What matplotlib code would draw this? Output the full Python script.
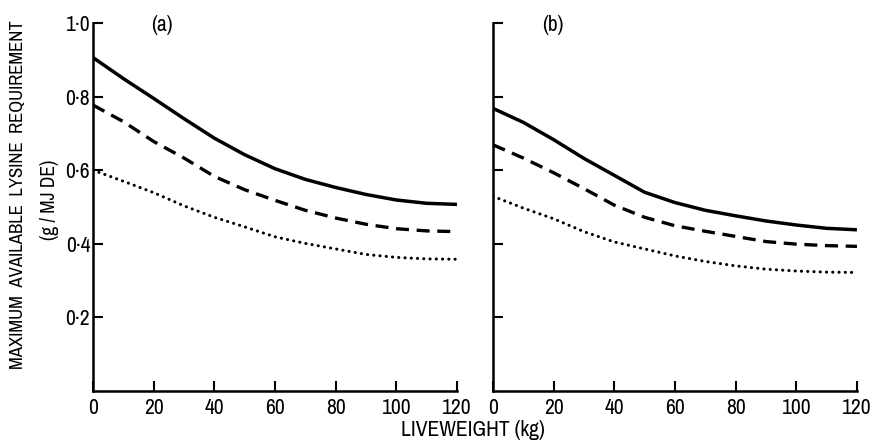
import matplotlib
matplotlib.use("Agg")
import matplotlib.pyplot as plt

# ---- data ----
weight = [0, 10, 20, 30, 40, 50, 60, 70, 80, 90, 100, 110, 120]

a_solid = [0.906, 0.849, 0.795, 0.740, 0.687, 0.642, 0.604, 0.575, 0.553, 0.534, 0.519, 0.510, 0.507]
a_dashed = [0.777, 0.732, 0.678, 0.633, 0.583, 0.547, 0.518, 0.491, 0.470, 0.453, 0.441, 0.435, 0.433]
a_dotted = [0.600, 0.570, 0.539, 0.503, 0.472, 0.446, 0.419, 0.401, 0.386, 0.371, 0.363, 0.359, 0.358]

b_solid = [0.768, 0.730, 0.683, 0.632, 0.586, 0.540, 0.512, 0.491, 0.476, 0.462, 0.451, 0.442, 0.438]
b_dashed = [0.669, 0.633, 0.593, 0.550, 0.505, 0.472, 0.449, 0.434, 0.420, 0.406, 0.399, 0.395, 0.393]
b_dotted = [0.529, 0.497, 0.468, 0.433, 0.405, 0.386, 0.367, 0.352, 0.340, 0.331, 0.326, 0.323, 0.322]

x_ticks = [0, 20, 40, 60, 80, 100, 120]
x_ticklabels = ["0", "20", "40", "60", "80", "100", "120"]
y_ticks = [0.2, 0.4, 0.6, 0.8, 1.0]
y_ticklabels = ["0·2", "0·4", "0·6", "0·8", "1·0"]
panel_labels = ["(a)", "(b)"]

plt.rcParams["font.family"] = ["Archivo Narrow", "Liberation Sans", "DejaVu Sans"]

fig = plt.figure(figsize=(8.74, 4.41), dpi=100)
ax_a = fig.add_axes([0.1064, 0.1134, 0.4165, 0.8345])
ax_b = fig.add_axes([0.5640, 0.1134, 0.4165, 0.8345])

dash_style = (0, (3.9, 2.3))
dot_style = (0, (0.05, 2.0))

for ax, s, d, t, lab, showy in [
    (ax_a, a_solid, a_dashed, a_dotted, panel_labels[0], True),
    (ax_b, b_solid, b_dashed, b_dotted, panel_labels[1], False),
]:
    ax.plot(weight, s, color="black", lw=2.5, solid_capstyle="butt")
    ax.plot(weight, d, color="black", lw=2.4,
            linestyle=dash_style, dash_capstyle="butt")
    ax.plot(weight, t, color="black", lw=2.2, linestyle=dot_style,
            dash_capstyle="round")
    ax.set_xlim(0, 120)
    ax.set_ylim(0, 1.0)
    for sp in ["top", "right"]:
        ax.spines[sp].set_visible(False)
    for sp in ["left", "bottom"]:
        ax.spines[sp].set_linewidth(1.8)
    ax.set_xticks(x_ticks)
    ax.set_xticklabels(x_ticklabels, fontsize=15.5)
    ax.set_yticks(y_ticks)
    if showy:
        ax.set_yticklabels(y_ticklabels, fontsize=15.5)
    else:
        ax.set_yticklabels([])
    ax.tick_params(axis="y", direction="in", length=7, width=1.5, pad=2)
    ax.tick_params(axis="x", direction="in", length=7, width=1.5, pad=5)
    ax.text(0.19 if showy else 0.165, 0.995, lab, transform=ax.transAxes,
            fontsize=15.5, ha="center", va="center")

fig.text(0.021, 0.558, "MAXIMUM  AVAILABLE  LYSINE  REQUIREMENT",
         rotation=90, ha="center", va="center", fontsize=13.5)
fig.text(0.057, 0.546, "(g / MJ DE)", rotation=90, ha="center", va="center",
         fontsize=14)
fig.text(0.541, 0.025, "LIVEWEIGHT (kg)", ha="center", va="center",
         fontsize=15.5)

fig.savefig("out.png", dpi=100)
